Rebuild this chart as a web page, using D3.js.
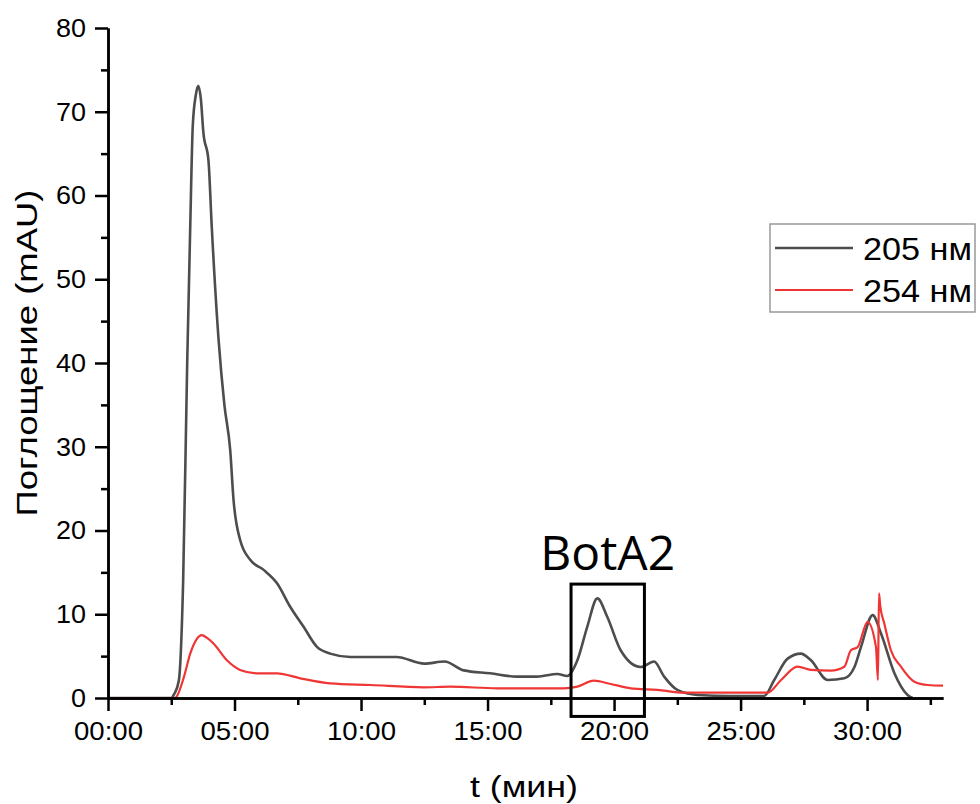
<!DOCTYPE html>
<html>
<head>
<meta charset="utf-8">
<script src="https://cdn.jsdelivr.net/npm/d3@7"></script>
<style>
    body { margin: 0; background: #fff; }
    text { font-family: "Liberation Sans", Arial, sans-serif; }
</style>
</head>
<body>
<div id="chart"></div>
<script>
// time in minutes, absorbance in mAU
let time205 = [0, 2.5, 2.62, 2.8, 2.97, 3.13, 3.25, 3.35, 3.47, 3.57, 3.67, 3.77, 3.97, 4.1, 4.37, 4.6, 4.83, 4.96, 5.22, 5.62, 6.15, 6.68, 7.2, 7.73, 8.26, 8.78, 9.58, 10.9, 11.4, 12.5, 13.3, 14.06, 15.1, 16.17, 16.96, 17.76, 18.15, 18.55, 18.94, 19.34, 19.73, 20.26, 21.05, 21.58, 21.98, 22.5, 23.3, 24.6, 25.93, 26.33, 26.86, 27.38, 27.78, 28.44, 29.1, 29.5, 29.76, 30.22, 30.55, 31.08, 31.6, 31.8];
let abs205  = [0, 0, 0.5, 2.1, 14, 40, 56.3, 68.3, 72, 73.1, 71.5, 67.5, 64.2, 56.3, 42.8, 35, 29.6, 23.7, 18.9, 16.5, 15.3, 13.7, 10.9, 8.5, 6.1, 5.3, 4.9, 4.9, 4.9, 4.1, 4.35, 3.3, 2.95, 2.55, 2.55, 2.87, 2.63, 4.5, 8.5, 11.9, 9.7, 5.7, 3.7, 4.35, 2.55, 0.96, 0.36, 0.24, 0.24, 2.15, 4.7, 5.3, 4.5, 2.15, 2.35, 3.7, 6.1, 9.9, 7.7, 2.95, 0.36, 0];

let time254 = [0, 2.65, 2.72, 3.0, 3.25, 3.5, 3.71, 3.9, 4.17, 4.7, 5.22, 5.88, 6.68, 7.6, 8.78, 10.37, 12.48, 13.53, 15.38, 18.0, 18.55, 19.2, 19.87, 20.66, 21.71, 22.77, 24.6, 26.07, 26.6, 27.25, 27.78, 28.57, 29.1, 29.36, 29.63, 30.02, 30.35, 30.43, 30.47, 30.52, 30.68, 30.94, 31.34, 31.87, 32.4, 33.0];
let abs254  = [0, 0, 0.2, 2.5, 5.3, 7.0, 7.5, 7.2, 6.5, 4.5, 3.35, 2.95, 2.95, 2.35, 1.75, 1.55, 1.28, 1.35, 1.16, 1.16, 1.35, 2.07, 1.67, 1.16, 0.96, 0.63, 0.63, 0.63, 2.15, 3.74, 3.35, 3.27, 3.74, 5.7, 6.1, 9.1, 6.1, 2.15, 12.5, 11.0, 8.9, 5.7, 3.74, 1.95, 1.55, 1.47];

let seriesNames = ["205 нм", "254 нм"];
let seriesColors = ["#4d4d4d", "#f03535"];

let xMajor = [0, 5, 10, 15, 20, 25, 30];
let xMinor = [2.5, 7.5, 12.5, 17.5, 22.5, 27.5, 32.5];
let yMajor = [0, 10, 20, 30, 40, 50, 60, 70, 80];
let yMinor = [5, 15, 25, 35, 45, 55, 65, 75];

// BotA2 fraction window (minutes)
let boxRange = [18.3, 21.2];

function chartConfig(){
    let width = 980;
    let height = 804;
    let margin = { top: 28, left: 108, right: 37, bottom: 106 };
    let bodyWidth = width - margin.left - margin.right;
    let bodyHeight = height - margin.top - margin.bottom;
    let svg = d3.select("#chart")
                .append("svg")
                .attr("width", width)
                .attr("height", height);
    let container = svg.append("g")
                .attr("transform", "translate(" + [margin.left, margin.top] + ")");
    return { width, height, margin, bodyWidth, bodyHeight, svg, container };
}

function chartScales(config){
    let { bodyWidth, bodyHeight } = config;
    let xScale = d3.scaleLinear().domain([0, 33]).range([0, bodyWidth]);
    let yScale = d3.scaleLinear().domain([0, 80]).range([bodyHeight, 0]);
    return { xScale, yScale };
}

function fmtTime(m){
    return d3.format("02d")(m) + ":00";
}

function drawAxes(scales, config){
    let { xScale, yScale } = scales;
    let { bodyHeight, container, svg } = config;

    let xMin = container.append("g")
        .attr("transform", "translate(0," + bodyHeight + ")")
        .call(d3.axisBottom(xScale).tickValues(xMinor).tickSize(7).tickSizeOuter(0).tickFormat(""));
    let xAx = container.append("g")
        .attr("transform", "translate(0," + bodyHeight + ")")
        .call(d3.axisBottom(xScale).tickValues(xMajor).tickSize(13).tickSizeOuter(0).tickPadding(11).tickFormat(fmtTime));

    let yMin = container.append("g")
        .call(d3.axisLeft(yScale).tickValues(yMinor).tickSize(7).tickSizeOuter(0).tickFormat(""));
    let yAx = container.append("g")
        .call(d3.axisLeft(yScale).tickValues(yMajor).tickSize(13).tickSizeOuter(0).tickPadding(9));

    [xMin, xAx, yMin, yAx].forEach(function(a){
        a.selectAll("path, line").attr("stroke", "#000").attr("stroke-width", 2.5);
        a.selectAll("text").attr("fill", "#000").style("font-size", "26px")
            .style("font-family", "'Liberation Sans', Arial, sans-serif");
    });
    // labels in the original are a little wider than Arial
    xAx.selectAll("text").attr("textLength", 69).attr("lengthAdjust", "spacingAndGlyphs");
    yAx.selectAll("text").each(function(d){
        d3.select(this).attr("textLength", d < 10 ? 15 : 30).attr("lengthAdjust", "spacingAndGlyphs");
    });

    svg.append("text")
        .attr("transform", "translate(37,353) rotate(-90)")
        .attr("text-anchor", "middle")
        .attr("textLength", 327)
        .attr("lengthAdjust", "spacingAndGlyphs")
        .style("font-size", "30px")
        .text("Поглощение (mAU)");

    svg.append("text")
        .attr("x", 524)
        .attr("y", 797)
        .attr("text-anchor", "middle")
        .attr("textLength", 108)
        .attr("lengthAdjust", "spacingAndGlyphs")
        .style("font-size", "30px")
        .text("t (мин)");
}

function drawLines(scales, config){
    let { xScale, yScale } = scales;
    let { container } = config;
    let line = d3.line()
        .x(d => xScale(d[0]))
        .y(d => yScale(d[1]))
        .curve(d3.curveMonotoneX);

    let data = [d3.zip(time205, abs205), d3.zip(time254, abs254)];
    container.selectAll("path.trace")
        .data(data)
        .enter()
        .append("path")
        .attr("class", "trace")
        .attr("fill", "none")
        .attr("stroke", (d, i) => seriesColors[i])
        .attr("stroke-width", (d, i) => i == 0 ? 2.6 : 2.2)
        .attr("stroke-linejoin", "round")
        .attr("d", line);
}

function drawBox(scales, config){
    let { xScale, yScale } = scales;
    let { container } = config;
    let x0 = xScale(boxRange[0]);
    let x1 = xScale(boxRange[1]);
    container.append("rect")
        .attr("x", x0)
        .attr("y", yScale(13.6))
        .attr("width", x1 - x0)
        .attr("height", yScale(-2.2) - yScale(13.6))
        .attr("fill", "none")
        .attr("stroke", "#000")
        .attr("stroke-width", 3);
    container.append("text")
        .attr("x", (x0 + x1) / 2)
        .attr("y", yScale(15.3))
        .attr("text-anchor", "middle")
        .style("font-family", "'Open Sans', sans-serif")
        .style("font-size", "48px")
        .text("BotA2");
}

function drawLegend(config){
    let { svg } = config;
    let lg = svg.append("g").attr("transform", "translate(770,224)");
    lg.append("rect")
        .attr("width", 205)
        .attr("height", 88)
        .attr("fill", "#fff")
        .attr("stroke", "#999")
        .attr("stroke-width", 1.5);
    let rows = lg.selectAll("g.row")
        .data(seriesNames)
        .enter()
        .append("g")
        .attr("transform", (d, i) => "translate(0," + (24 + i * 42) + ")");
    rows.append("line")
        .attr("x1", 5).attr("x2", 83)
        .attr("stroke", (d, i) => seriesColors[i])
        .attr("stroke-width", (d, i) => i == 0 ? 2.6 : 2.2);
    rows.append("text")
        .attr("x", 93)
        .attr("y", 12)
        .attr("textLength", 109)
        .attr("lengthAdjust", "spacingAndGlyphs")
        .style("font-size", "31px")
        .text(d => d);
}

let config = chartConfig();
let scales = chartScales(config);
drawLines(scales, config);
drawAxes(scales, config);
drawBox(scales, config);
drawLegend(config);
</script>
</body>
</html>
